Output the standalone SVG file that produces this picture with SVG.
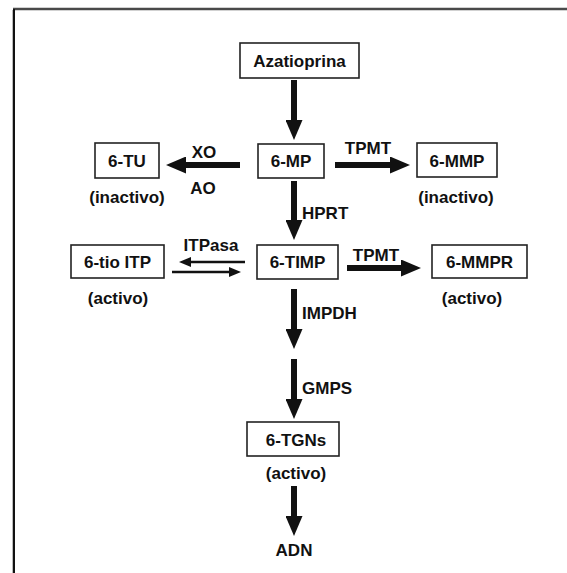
<svg xmlns="http://www.w3.org/2000/svg" width="567" height="573" viewBox="0 0 567 573">
  <style>
    .box { fill: #ffffff; stroke: #222222; stroke-width: 1.6; }
    .t { font-family: "Liberation Sans", Arial, sans-serif; font-weight: bold; font-size: 17px; fill: #111111; text-anchor: middle; }
    .lbl { font-family: "Liberation Sans", Arial, sans-serif; font-weight: bold; font-size: 17px; fill: #111111; }
    .thick { stroke: #111111; stroke-width: 6; fill: none; marker-end: url(#headThick); }
    .thin { stroke: #111111; stroke-width: 2.5; fill: none; marker-end: url(#headThin); }
  </style>
  <defs>
    <marker id="headThick" markerUnits="userSpaceOnUse" markerWidth="20" markerHeight="17" refX="1" refY="8.5" orient="auto">
      <path d="M0,0 L20,8.5 L0,17 z" fill="#111111"/>
    </marker>
    <marker id="headThin" markerUnits="userSpaceOnUse" markerWidth="12" markerHeight="10" refX="1" refY="5" orient="auto">
      <path d="M0,0 L12,5 L0,10 z" fill="#111111"/>
    </marker>
  </defs>
  <rect x="0" y="0" width="567" height="573" fill="#ffffff"/>
  <g id="frame">
    <line x1="13" y1="9" x2="567" y2="9" stroke="#4a4a4a" stroke-width="2.5"/>
    <line x1="14" y1="9" x2="14" y2="573" stroke="#111111" stroke-width="2"/>
    <line x1="12.5" y1="10" x2="12.5" y2="573" stroke="#bbbbbb" stroke-width="1"/>
  </g>
  <g id="connectors">
    <line class="thick" x1="294" y1="80" x2="294" y2="121"/>
    <line class="thick" x1="240" y1="165" x2="185" y2="165"/>
    <line class="thick" x1="335" y1="165" x2="391" y2="165"/>
    <line class="thick" x1="294" y1="181" x2="294" y2="221"/>
    <line class="thin" x1="245" y1="262" x2="190" y2="262"/>
    <line class="thin" x1="172" y1="272" x2="230" y2="272"/>
    <line class="thick" x1="347" y1="268" x2="402" y2="268"/>
    <line class="thick" x1="294" y1="289" x2="294" y2="330"/>
    <line class="thick" x1="294" y1="359" x2="294" y2="400"/>
    <line class="thick" x1="294" y1="486" x2="294" y2="517"/>
    <text class="lbl" x="204" y="158" text-anchor="middle">XO</text>
    <text class="lbl" x="203" y="194" text-anchor="middle">AO</text>
    <text class="lbl" x="368" y="154" text-anchor="middle">TPMT</text>
    <text class="lbl" x="302" y="219">HPRT</text>
    <text class="lbl" x="211" y="251" text-anchor="middle">ITPasa</text>
    <text class="lbl" x="376" y="261" text-anchor="middle">TPMT</text>
    <text class="lbl" x="302" y="319">IMPDH</text>
    <text class="lbl" x="302" y="394">GMPS</text>
  </g>
  <g id="azatioprina">
    <rect class="box" x="240" y="43" width="119" height="35"/>
    <text class="t" x="299.5" y="66.5">Azatioprina</text>
  </g>
  <g id="n6MP">
    <rect class="box" x="258" y="144" width="66" height="34"/>
    <text class="t" x="291" y="167">6-MP</text>
  </g>
  <g id="n6TU">
    <rect class="box" x="95" y="143" width="64" height="35"/>
    <text class="t" x="127" y="167">6-TU</text>
    <text class="t" x="127" y="203">(inactivo)</text>
  </g>
  <g id="n6MMP">
    <rect class="box" x="417" y="143" width="80" height="34"/>
    <text class="t" x="457" y="166.5">6-MMP</text>
    <text class="t" x="456" y="203">(inactivo)</text>
  </g>
  <g id="n6TIMP">
    <rect class="box" x="257" y="245" width="81" height="34"/>
    <text class="t" x="297.5" y="268">6-TIMP</text>
  </g>
  <g id="n6tioITP">
    <rect class="box" x="71" y="245" width="93" height="33"/>
    <text class="t" x="117.5" y="268">6-tio ITP</text>
    <text class="t" x="118" y="304">(activo)</text>
  </g>
  <g id="n6MMPR">
    <rect class="box" x="432" y="245" width="95" height="33"/>
    <text class="t" x="479.5" y="268">6-MMPR</text>
    <text class="t" x="472" y="304">(activo)</text>
  </g>
  <g id="n6TGNs">
    <rect class="box" x="247" y="422" width="92" height="34"/>
    <text class="t" x="296" y="446">6-TGNs</text>
    <text class="t" x="296" y="479">(activo)</text>
  </g>
  <g id="ADN">
    <text class="t" x="294" y="556">ADN</text>
  </g>
</svg>
